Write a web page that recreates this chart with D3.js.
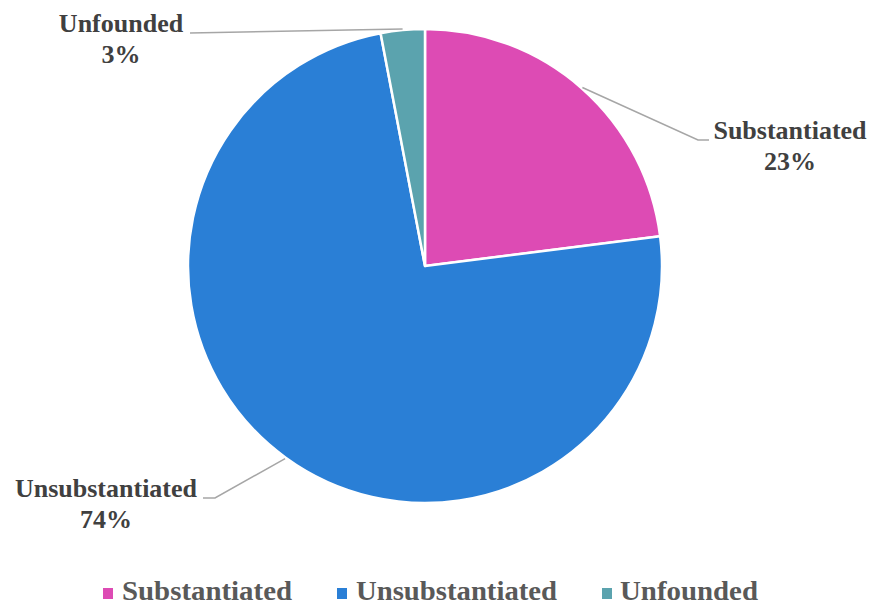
<!DOCTYPE html>
<html>
<head>
<meta charset="utf-8">
<script src="https://cdn.jsdelivr.net/npm/d3@7"></script>
<style>
  html, body { margin: 0; padding: 0; background: #fff; }
  svg { display: block; }
</style>
</head>
<body>
<svg id="chart" width="873" height="607"></svg>
<script>
// Case outcomes, share of total (%)
const categories = ["Substantiated", "Unsubstantiated", "Unfounded"];
const shares = [23, 74, 3];
const colors = ["#DD4BB4", "#2A7FD6", "#5BA3AE"];

const W = 873, H = 607;
const cx = 425, cy = 266, R = 237;

// Where each callout label sits and where its leader elbows
const labelLayout = [
  { x: 790, y: 139, elbowX: 698, endX: 709 },
  { x: 106, y: 497, elbowX: 215, endX: 203 },
  { x: 121, y: 32,  elbowX: 190, endX: 190 }
];

const svg = d3.select("#chart");
const data = categories.map((c, i) => ({ name: c, value: shares[i], color: colors[i] }));

const pie = d3.pie().sort(null).value(d => d.value);
const arcs = pie(data);
const arc = d3.arc().innerRadius(0).outerRadius(R);

const g = svg.append("g").attr("transform", `translate(${cx},${cy})`);

g.selectAll("path.slice")
  .data(arcs)
  .join("path")
  .attr("class", "slice")
  .attr("d", arc)
  .attr("fill", d => d.data.color)
  .attr("stroke", "#fff")
  .attr("stroke-width", 2.5)
  .attr("stroke-linejoin", "round");

// Leader lines from slice edge to labels
arcs.forEach((a, i) => {
  const mid = (a.startAngle + a.endAngle) / 2;
  const sx = cx + Math.sin(mid) * (R + 1);
  const sy = cy - Math.cos(mid) * (R + 1);
  const L = labelLayout[i];
  const ly = L.y + 1;
  const pts = [[sx, sy], [L.elbowX, ly], [L.endX, ly]];
  svg.append("polyline")
    .attr("points", pts.map(p => p.join(",")).join(" "))
    .attr("fill", "none")
    .attr("stroke", "#A6A6A6")
    .attr("stroke-width", 1.5);

  const t = svg.append("text")
    .attr("x", L.x)
    .attr("y", L.y)
    .attr("text-anchor", "middle")
    .attr("font-family", "'Liberation Serif', 'Times New Roman', serif")
    .attr("font-weight", "bold")
    .attr("font-size", 26)
    .attr("fill", "#404040");
  t.append("tspan").attr("x", L.x).text(a.data.name);
  t.append("tspan").attr("x", L.x).attr("dy", 31).text(a.data.value + "%");
});

// Legend
const legendItems = [
  { sq: 103, tx: 122, w: 170 },
  { sq: 337, tx: 356, w: 201 },
  { sq: 602, tx: 620, w: 138 }
];
const legend = svg.append("g");
data.forEach((d, i) => {
  const L = legendItems[i];
  legend.append("rect")
    .attr("x", L.sq).attr("y", 588)
    .attr("width", 10).attr("height", 11)
    .attr("fill", d.color);
  legend.append("text")
    .attr("x", L.tx).attr("y", 600)
    .attr("font-family", "'Liberation Serif', 'Times New Roman', serif")
    .attr("font-weight", "bold")
    .attr("font-size", 28)
    .attr("textLength", L.w)
    .attr("lengthAdjust", "spacingAndGlyphs")
    .attr("fill", "#595959")
    .text(d.name);
});
</script>
</body>
</html>
